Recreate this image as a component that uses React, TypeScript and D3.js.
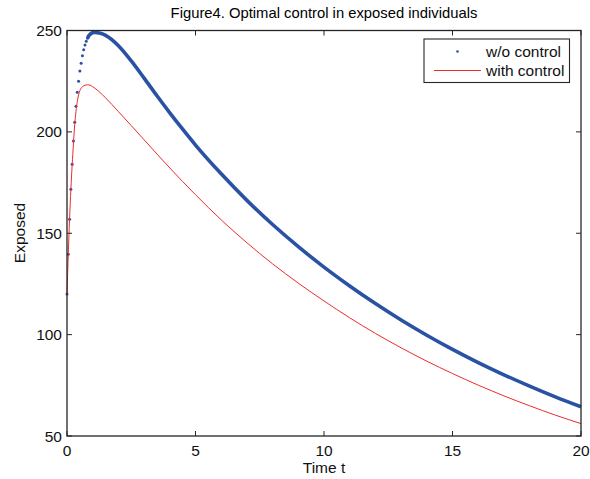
import { useEffect, useRef } from "react";
import * as d3 from "d3";

// early time steps, where the blue dots are still apart
const tEarly = [0, 0.05, 0.1, 0.15, 0.2, 0.25, 0.3, 0.35, 0.4, 0.45, 0.5, 0.55, 0.6, 0.65, 0.7, 0.75, 0.8, 0.85, 0.9, 0.95, 1.0, 1.05, 1.1, 1.2];
const noControlEarly = [120, 139.7, 156.9, 171.7, 184, 195.5, 204.7, 212.6, 219.5, 225, 230, 233.9, 237.5, 240.5, 242.8, 244.7, 246.2, 247.4, 248.1, 248.6, 248.9, 249, 249, 248.9];

// later part, blue dots merge into a thick band
const tLate = [1.3, 1.5, 2, 2.5, 3, 3.5, 4, 4.5, 5, 6, 7, 8, 9, 10, 11, 12, 13, 14, 15, 16, 17, 18, 19, 20];
const noControlLate = [248.6, 247.6, 242.5, 235, 226.5, 217.8, 209.4, 201.3, 193.5, 179.3, 166.2, 154.3, 143.4, 133.3, 124, 115.3, 107.2, 99.7, 92.7, 86.2, 80.2, 74.6, 69.3, 64.4];

// with control (red)
const tControl = [0, 0.05, 0.1, 0.15, 0.2, 0.25, 0.3, 0.35, 0.4, 0.45, 0.5, 0.6, 0.7, 0.8, 0.9, 1.0, 1.25, 1.5, 2, 2.5, 3, 3.5, 4, 4.5, 5, 6, 7, 8, 9, 10, 11, 12, 13, 14, 15, 16, 17, 18, 19, 20];
const withControl = [120, 139.7, 156.9, 171.5, 183.5, 194, 203.5, 210.2, 214.9, 218.2, 220.3, 222.3, 223, 223.2, 223, 222.3, 219.8, 216.8, 210, 203.1, 196.1, 189.1, 182.2, 175.5, 169, 156.6, 145.3, 134.9, 125.4, 116.6, 108.3, 100.6, 93.5, 86.9, 80.8, 75.1, 69.8, 64.9, 60.3, 56.1];

const xTicks = [0, 5, 10, 15, 20];
const yTicks = [50, 100, 150, 200, 250];

const W = 590;
const H = 479;
const BLUE = "#2a52a4";
const RED = "#ee2b2b";
const FONT = "'Liberation Sans', Arial, Helvetica, sans-serif";

const App = () => {
  const svgRef = useRef<SVGSVGElement>(null);

  useEffect(() => {
    const svg = d3.select(svgRef.current);
    svg.selectAll("*").remove();

    const x0 = 67, x1 = 581, y0 = 436, y1 = 30.5;
    const x = d3.scaleLinear().domain([0, 20]).range([x0, x1]);
    const y = d3.scaleLinear().domain([50, 250]).range([y0, y1]);

    // title
    svg.append("text")
      .attr("x", 324).attr("y", 18)
      .attr("text-anchor", "middle")
      .attr("font-family", FONT).attr("font-size", 14.8)
      .text("Figure4. Optimal control in exposed individuals");

    const early = tEarly.map((t, i) => [t, noControlEarly[i]] as [number, number]);
    const late = tLate.map((t, i) => [t, noControlLate[i]] as [number, number]);
    const red = tControl.map((t, i) => [t, withControl[i]] as [number, number]);

    const line = d3.line<[number, number]>()
      .x((d) => x(d[0]))
      .y((d) => y(d[1]))
      .curve(d3.curveMonotoneX);

    // blue: thick band where dots overlap
    svg.append("path")
      .datum(early.filter((d) => d[0] >= 0.8).concat(late))
      .attr("d", line)
      .attr("fill", "none")
      .attr("stroke", BLUE)
      .attr("stroke-width", 3.6);

    svg.selectAll("circle.early")
      .data(early)
      .join("circle")
      .attr("class", "early")
      .attr("cx", (d) => x(d[0]))
      .attr("cy", (d) => y(d[1]))
      .attr("r", 1.5)
      .attr("fill", BLUE);

    // red
    svg.append("path")
      .datum(red)
      .attr("d", line)
      .attr("fill", "none")
      .attr("stroke", RED)
      .attr("stroke-width", 1);

    // box + ticks
    const axis = svg.append("g").attr("stroke", "#262626").attr("stroke-width", 1.3);
    axis.append("rect")
      .attr("x", x0).attr("y", y1)
      .attr("width", x1 - x0).attr("height", y0 - y1)
      .attr("fill", "none");

    const tl = 5;
    xTicks.forEach((t) => {
      axis.append("line").attr("x1", x(t)).attr("x2", x(t)).attr("y1", y0).attr("y2", y0 - tl).attr("stroke-width", 1);
      axis.append("line").attr("x1", x(t)).attr("x2", x(t)).attr("y1", y1).attr("y2", y1 + tl).attr("stroke-width", 1);
    });
    yTicks.forEach((v) => {
      axis.append("line").attr("x1", x0).attr("x2", x0 + tl).attr("y1", y(v)).attr("y2", y(v)).attr("stroke-width", 1);
      axis.append("line").attr("x1", x1).attr("x2", x1 - tl).attr("y1", y(v)).attr("y2", y(v)).attr("stroke-width", 1);
    });

    const labels = svg.append("g").attr("font-family", FONT).attr("font-size", 15.5).attr("fill", "#111");
    xTicks.forEach((t) => {
      labels.append("text")
        .attr("x", x(t)).attr("y", y0 + 20)
        .attr("text-anchor", "middle")
        .text(t);
    });
    yTicks.forEach((v) => {
      labels.append("text")
        .attr("x", x0 - 5).attr("y", y(v) + 5.5)
        .attr("text-anchor", "end")
        .text(v);
    });

    // axis titles
    labels.append("text")
      .attr("x", 324).attr("y", 473)
      .attr("text-anchor", "middle")
      .text("Time t");
    labels.append("text")
      .attr("transform", "translate(25, 233) rotate(-90)")
      .attr("text-anchor", "middle")
      .text("Exposed");

    // legend
    const lg = svg.append("g");
    lg.append("rect")
      .attr("x", 424).attr("y", 39)
      .attr("width", 145.5).attr("height", 43.5)
      .attr("fill", "white").attr("stroke", "#262626").attr("stroke-width", 1.1);
    lg.append("circle").attr("cx", 457.5).attr("cy", 51.5).attr("r", 1.3).attr("fill", BLUE);
    lg.append("line")
      .attr("x1", 434).attr("x2", 481).attr("y1", 70.5).attr("y2", 70.5)
      .attr("stroke", RED).attr("stroke-width", 1);
    lg.append("text").attr("x", 486).attr("y", 57).attr("font-family", FONT).attr("font-size", 15.5).attr("fill", "#111").text("w/o control");
    lg.append("text").attr("x", 486).attr("y", 76).attr("font-family", FONT).attr("font-size", 15.5).attr("fill", "#111").text("with control");
  }, []);

  return (
    <svg
      ref={svgRef}
      width={W}
      height={H}
      style={{ position: "absolute", left: 0, top: 0, background: "white" }}
    />
  );
};

export default App;
